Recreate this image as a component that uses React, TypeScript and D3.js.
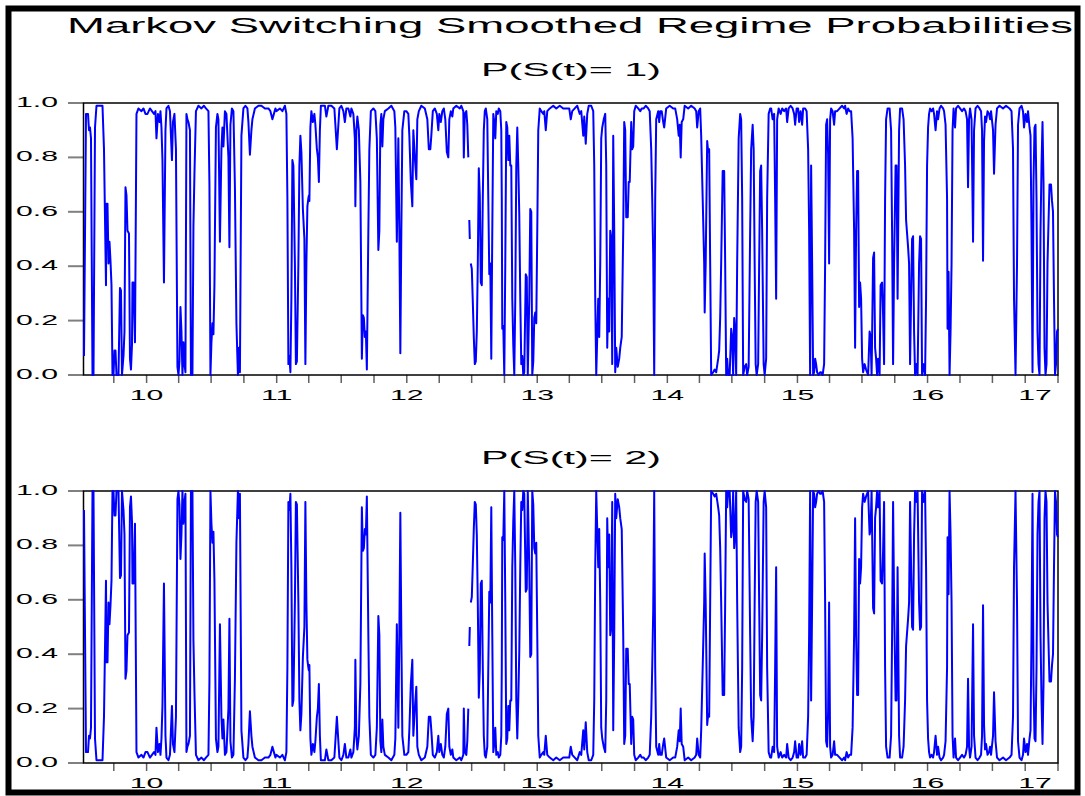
import React from "react";
import * as d3 from "d3";

// ---------- data ----------
const TITLE = "Markov Switching Smoothed Regime Probabilities";
const PANEL_TITLES = ["P(S(t)= 1)", "P(S(t)= 2)"];
const N_OBS = 1950; // daily observations in the sample
const START_DATE = new Date(2009, 6, 8);
const END_DATE = new Date(2017, 0, 1);
const Y_TICKS = [0, 0.2, 0.4, 0.6, 0.8, 1.0];

// [observation index, smoothed probability of regime 1] (NaN = missing)
const P1_SERIES: [number, number][] = [
  [1,0.07],[5,0.96],[9,0.96],[11,0.90],[13,0.91],[15,0.87],[18,0],[20,0],[23,0.91],[26,0.99],[38,0.99],[41,0.83],[45,0.33],[46,0.63],[48,0.63],[50,0.41],[52,0.49],[54,0.42],[56,0.33],[58,0],[60,0],[62,0.09],[64,0.09],[66,0],[70,0],[73,0.32],[75,0.31],[77,0],[80,0.07],[82,0.16],[84,0.69],[86,0.66],[88,0.53],[91,0.52],[93,0.06],[95,0.02],[97,0.11],[98,0.34],[100,0.34],[103,0.12],[106,0.96],[110,0.98],[116,0.97],[120,0.98],[124,0.96],[128,0.96],[133,0.98],[137,0.97],[141,0.96],[144,0.97],[146,0.87],[149,0.96],[152,0.93],[154,0.97],[156,0.91],[158,0.79],[161,0.34],[164,0.90],[166,0.98],[170,0.99],[173,0.97],[175,0.88],[177,0.79],[179,0.93],[182,0.96],[185,0.83],[188,0.03],[190,0],[192,0.05],[194,0.25],[196,0.16],[198,0],[200,0.12],[202,0.04],[204,0.01],[206,0.96],[208,0.94],[210,0.93],[213,0.90],[215,0],[218,0],[220,0.55],[222,0.74],[225,0.97],[230,0.99],[236,0.98],[241,0.99],[245,0.98],[250,0.97],[252,0.70],[254,0],[256,0.12],[258,0.19],[260,0.15],[262,0.33],[265,0.91],[268,0.96],[270,0.94],[273,0.49],[276,0.83],[278,0.91],[280,0.84],[283,0.97],[286,0.96],[290,0.80],[292,0.47],[294,0.92],[297,0.98],[300,0.97],[303,0.69],[306,0.19],[309,0],[311,0.10],[313,0.01],[316,0.88],[320,0.98],[324,0.99],[328,0.98],[330,0.93],[333,0.81],[336,0.90],[338,0.94],[343,0.98],[350,0.99],[356,0.99],[363,0.98],[370,0.98],[374,0.97],[378,0.94],[381,0.96],[384,0.98],
  [386,0.97],[393,0.98],[398,0.97],[403,0.99],[406,0.96],[408,0.65],[410,0.04],[412,0.07],[414,0.01],[416,0.28],[418,0.79],[420,0.77],[423,0.41],[425,0.04],[427,0.05],[430,0.41],[432,0.77],[434,0.88],[436,0.82],[439,0.61],[442,0.50],[444,0.04],[446,0.41],[448,0.62],[450,0.65],[451,0.66],[452,0.64],[454,0.91],[456,0.97],[459,0.93],[462,0.96],[464,0.92],[467,0.83],[469,0.80],[471,0.71],[473,0.90],[475,0.99],[480,0.99],[483,0.99],[486,0.95],[490,0.99],[496,0.99],[502,0.98],[504,0.92],[507,0.83],[510,0.92],[512,0.98],[516,0.99],[520,0.97],[523,0.93],[526,0.98],[530,0.98],[534,0.95],[536,0.98],[540,0.96],[543,0.87],[544,0.62],[546,0.90],[548,0.95],[551,0.90],[554,0.71],[556,0.28],[557,0.06],[559,0.22],[561,0.21],[563,0.14],[565,0.16],[567,0.02],[570,0.53],[572,0.83],[575,0.97],[580,0.98],[584,0.97],[587,0.87],[590,0.46],[592,0.53],[594,0.92],[596,0.96],[598,0.84],[600,0.94],[603,0.97],[610,0.98],[616,0.99],[622,0.97],[624,0.91],[627,0.49],[630,0.87],[632,0.53],[634,0.08],[636,0.53],[638,0.90],[642,0.97],[646,0.97],[650,0.96],[652,0.88],[655,0.71],[658,0.62],[660,0.90],[663,0.80],[666,0.72],[668,0.94],[671,0.97],[676,0.99],[683,0.98],[688,0.94],[691,0.83],[694,0.83],[696,0.88],[699,0.97],[703,0.98],[707,0.96],[710,0.90],[712,0.96],[715,0.93],[718,0.97],[721,0.98],[724,0.94],[727,0.82],[730,0.80],[732,0.94],[735,0.97],[738,0.95],[740,0.98],[746,0.99],[753,0.98],[756,0.99],[760,0.97],[761,0.80],[763,0.96],[766,0.97],[768,0.92],[770,0.80],[771,NaN],[772,0.57],[773,0.50],[774,NaN],
  [775,0.41],[777,0.39],[779,0.27],[781,0.14],[783,0.04],[785,0.05],[787,0.16],[789,0.41],[791,0.76],[793,0.66],[795,0.34],[797,0.33],[799,0.65],[801,0.90],[803,0.97],[805,0.98],[808,0.94],[810,0.65],[812,0.37],[814,0.41],[816,0.06],[818,0.53],[820,0.96],[822,0.93],[824,0.87],[826,0.97],[829,0.96],[831,0.98],[834,0.97],[836,0.90],[837,0.65],[838,0.17],[840,0.18],[842,0],[844,0.41],[846,0.93],[848,0.91],[850,0.79],[852,0.88],[854,0.77],[856,0.77],[858,0.28],[860,0.11],[862,0],[864,0.28],[866,0.77],[868,0.91],[870,0.77],[872,0.59],[874,0.28],[876,0.04],[878,0.07],[880,0],[882,0.01],[885,0.37],[887,0.36],[889,0],[892,0.28],[894,0.61],[896,0.60],[898,0],[900,0.05],[902,0.21],[904,0.23],[906,0.19],[908,0.53],[910,0.90],[913,0.98],[916,0.97],[920,0.96],[922,0.97],[925,0.90],[928,0.97],[933,0.98],[940,0.99],[946,0.98],[953,0.99],[960,0.98],[966,0.98],[972,0.98],[975,0.94],[978,0.97],[983,0.98],[988,0.99],[993,0.96],[996,0.97],[1000,0.88],[1002,0.95],[1005,0.85],[1008,0.96],[1011,0.99],[1016,0.99],[1020,0.97],[1022,0.77],[1024,0.28],[1026,0],[1028,0.14],[1030,0.28],[1032,0.14],[1034,0.41],[1036,0.87],[1038,0.91],[1041,0.94],[1044,0.96],[1046,0.77],[1048,0.10],[1050,0.28],[1052,0.16],[1054,0.53],[1056,0.50],[1058,0.04],[1060,0.88],[1062,0.53],[1064,0.01],[1066,0.10],[1069,0.03],[1072,0.06],[1074,0.10],[1077,0.14],[1080,0.53],[1082,0.93],[1084,0.90],[1086,0.58],[1089,0.58],[1091,0.71],[1093,0.71],[1096,0.93],[1098,0.83],[1100,0.84],[1102,0.97],[1105,0.99],[1110,0.98],[1114,0.97],[1117,0.98],[1121,0.98],[1125,0.99],[1130,0.98],[1133,0.97],[1136,0.83],[1138,0.65],[1140,0.44],[1142,0],[1144,0.65],[1146,0.94],[1150,0.97],[1152,0.93],[1154,0.97],[1157,0.97],[1160,0.93],[1162,0.91],
  [1166,0.98],[1173,0.99],[1180,0.98],[1184,0.98],[1188,0.94],[1191,0.88],[1193,0.92],[1195,0.80],[1197,0.93],[1200,0.94],[1203,0.99],[1210,0.98],[1216,0.99],[1223,0.98],[1226,0.97],[1228,0.91],[1231,0.97],[1234,0.98],[1236,0.88],[1239,0.65],[1242,0.41],[1243,0.23],[1245,0.41],[1248,0.86],[1250,0.82],[1252,0.83],[1254,0.41],[1256,0],[1260,0.01],[1263,0.02],[1266,0.01],[1270,0.06],[1272,0.09],[1274,0.21],[1276,0.41],[1279,0.75],[1282,0.75],[1284,0.41],[1286,0],[1288,0.06],[1290,0],[1293,0],[1296,0.17],[1298,0.14],[1300,0],[1302,0.21],[1304,0.16],[1306,0],[1308,0.41],[1311,0.87],[1314,0.96],[1316,0.94],[1318,0.65],[1320,0],[1323,0.03],[1326,0.04],[1328,0],[1331,0.03],[1334,0.53],[1336,0.83],[1339,0.92],[1341,0.83],[1343,0.41],[1345,0.04],[1347,0],[1350,0.04],[1352,0.41],[1354,0.75],[1356,0.77],[1358,0.53],[1361,0.04],[1363,0],[1366,0.06],[1368,0.65],[1371,0.96],[1374,0.98],[1376,0.98],[1379,0.94],[1382,0.96],[1384,0.65],[1386,0.28],[1388,0.94],[1391,0.98],[1395,0.96],[1398,0.98],[1402,0.97],[1406,0.98],[1408,0.93],[1411,0.98],[1415,0.99],[1419,0.98],[1422,0.96],[1424,0.92],[1427,0.98],[1430,0.98],[1432,0.93],[1435,0.97],[1438,0.92],[1440,0.98],[1444,0.98],[1447,0.97],[1450,0.83],[1452,0.53],[1454,0],[1456,0.77],[1458,0.41],[1460,0],[1462,0.01],[1464,0.06],[1466,0.04],[1468,0.01],[1471,0],[1474,0.01],[1476,0.01],[1479,0],[1482,0.04],[1484,0.41],[1486,0.92],[1488,0.94],[1490,0.81],[1492,0.41],[1494,0.94],[1496,0.98],[1499,0.97],[1502,0.92],[1504,0.97],[1508,0.97],[1513,0.98],[1518,0.99],[1522,0.98],[1524,0.99],[1527,0.96],[1530,0.98],[1533,0.97],[1536,0.97],[1539,0.87],[1542,0.53],[1544,0.10],[1546,0.53],[1548,0.75],[1550,0.75],[1552,0.25],[1554,0.34],[1556,0.28],[1558,0.06],
  [1560,0.01],[1563,0.04],[1566,0.02],[1570,0],[1573,0.16],[1575,0.14],[1577,0],[1580,0.43],[1582,0.45],[1584,0.10],[1586,0.06],[1588,0],[1590,0.06],[1593,0],[1595,0.33],[1598,0.34],[1600,0.22],[1602,0.04],[1604,0.65],[1606,0.94],[1609,0.98],[1613,0.98],[1616,0.90],[1618,0.53],[1620,0.04],[1622,0.41],[1625,0.77],[1627,0.77],[1629,0.28],[1632,0.90],[1634,0.98],[1638,0.98],[1641,0.94],[1644,0.77],[1646,0.57],[1650,0.47],[1652,0.41],[1654,0.04],[1656,0.28],[1658,0.50],[1660,0.51],[1662,0.16],[1664,0],[1667,0.04],[1669,0],[1672,0.41],[1674,0.51],[1676,0.50],[1678,0],[1681,0.04],[1684,0],[1686,0.28],[1688,0.77],[1690,0.91],[1692,0.96],[1694,0.98],[1697,0.97],[1700,0.98],[1702,0.96],[1705,0.90],[1708,0.97],[1710,0.94],[1713,0.98],[1716,0.99],[1720,0.98],[1722,0.97],[1725,0.92],[1728,0.65],[1729,0.17],[1731,0.38],[1733,0],[1735,0.16],[1737,0.41],[1739,0.90],[1741,0.98],[1744,0.91],[1746,0.98],[1750,0.99],[1754,0.98],[1758,0.97],[1762,0.98],[1765,0.97],[1768,0.94],[1770,0.69],[1772,0.94],[1774,0.98],[1777,0.94],[1780,0.49],[1782,0.90],[1785,0.98],[1789,0.99],[1793,0.98],[1796,0.97],[1798,0.90],[1800,0.42],[1802,0.86],[1804,0.95],[1806,0.93],[1809,0.97],[1812,0.96],[1814,0.94],[1816,0.97],[1820,0.90],[1822,0.74],[1825,0.92],[1828,0.98],[1833,0.99],[1840,0.98],[1846,0.99],[1853,0.98],[1857,0.97],[1860,0.83],[1862,0.28],[1865,0],[1868,0.41],[1870,0.92],[1873,0.98],[1877,0.99],[1880,0.97],[1882,0.91],[1885,0.96],[1888,0.93],[1890,0.97],[1893,0.91],[1895,0.88],[1897,0.53],[1899,0.01],[1901,0.71],[1903,0.91],[1905,0.92],[1907,0.65],[1909,0.16],[1911,0.04],[1913,0],[1915,0.53],[1917,0.77],[1919,0.93],[1921,0.71],[1923,0.10],[1925,0],[1927,0.04],[1929,0.41],[1931,0.56],[1933,0.70],[1936,0.70],[1938,0.64],[1940,0.60],[1942,0.28],[1944,0],[1946,0.04],[1948,0.16],[1950,0.17],
];

// Two-regime model: smoothed probabilities of the regimes sum to one.
const P2_SERIES: [number, number][] = P1_SERIES.map(([t, v]) => [t, 1 - v]);

// ---------- layout ----------
const W = 1085;
const H = 796;
const PLOT_LEFT = 83.5;
const PLOT_RIGHT = 1058;
const PANEL_TOPS = [103, 491];
const PANEL_H = 272;
const FONT = "'Liberation Sans', Arial, Helvetica, sans-serif";
const STRETCH = 1.95;

const xObs = d3.scaleLinear().domain([0, N_OBS]).range([PLOT_LEFT, PLOT_RIGHT]);
const xTime = d3.scaleTime().domain([START_DATE, END_DATE]).range([PLOT_LEFT, PLOT_RIGHT]);
const quarterTicks = d3.timeMonth.every(3)!.range(START_DATE, d3.timeDay.offset(END_DATE, 1));
const fmtY = d3.format(".1f");
const fmtYear = d3.timeFormat("%y");

function Panel({ top, title, series }: { top: number; title: string; series: [number, number][] }) {
  const bottom = top + PANEL_H;
  const y = d3.scaleLinear().domain([0, 1]).range([bottom, top]);
  const line = d3
    .line<[number, number]>()
    .defined((d) => !isNaN(d[1]))
    .x((d) => xObs(d[0]))
    .y((d) => y(d[1]));
  return (
    <g>
      <text
        x={481}
        y={top - 27}
        fontFamily={FONT}
        fontSize={18.5}
        textLength={180}
        lengthAdjust="spacingAndGlyphs"
        fill="#000"
      >
        {title}
      </text>
      {Y_TICKS.map((t) => (
        <g key={t}>
          <line x1={68} x2={PLOT_LEFT} y1={y(t)} y2={y(t)} stroke="#808080" strokeWidth={2} />
          <text
            transform={`translate(58,${y(t) + 4}) scale(${STRETCH},1)`}
            textAnchor="end"
            fontFamily={FONT}
            fontSize={15.5}
            fill="#000"
          >
            {fmtY(t)}
          </text>
        </g>
      ))}
      {quarterTicks.map((d) => {
        const xx = xTime(d);
        return (
          <line key={+d} x1={xx} x2={xx} y1={bottom} y2={bottom + 8} stroke="#606060" strokeWidth={1.5} />
        );
      })}
      {quarterTicks
        .filter((d) => d.getMonth() === 0)
        .map((d) => {
          const xx = Math.min(xTime(d), PLOT_RIGHT - 23);
          return (
            <text
              key={"l" + +d}
              transform={`translate(${xx},${bottom + 25}) scale(${STRETCH},1)`}
              textAnchor="middle"
              fontFamily={FONT}
              fontSize={15.5}
              fill="#000"
            >
              {fmtYear(d)}
            </text>
          );
        })}
      <rect
        x={PLOT_LEFT}
        y={top}
        width={PLOT_RIGHT - PLOT_LEFT}
        height={PANEL_H}
        fill="none"
        stroke="#000"
        strokeWidth={1.5}
      />
      <path d={line(series) || ""} fill="none" stroke="#0000FF" strokeWidth={2} strokeLinejoin="round" />
    </g>
  );
}

export default function App() {
  return (
    <svg
      width={W}
      height={H}
      viewBox={`0 0 ${W} ${H}`}
      style={{ position: "absolute", left: 0, top: 0, background: "#fff" }}
    >
      <rect x={0} y={0} width={W} height={H} fill="#fff" />
      <rect x={8.5} y={8.5} width={1069} height={784} fill="none" stroke="#000" strokeWidth={6} />
      <text
        x={67}
        y={33}
        fontFamily={FONT}
        fontSize={22}
        textLength={1006}
        lengthAdjust="spacingAndGlyphs"
        fill="#000"
      >
        {TITLE}
      </text>
      <Panel top={PANEL_TOPS[0]} title={PANEL_TITLES[0]} series={P1_SERIES} />
      <Panel top={PANEL_TOPS[1]} title={PANEL_TITLES[1]} series={P2_SERIES} />
    </svg>
  );
}
